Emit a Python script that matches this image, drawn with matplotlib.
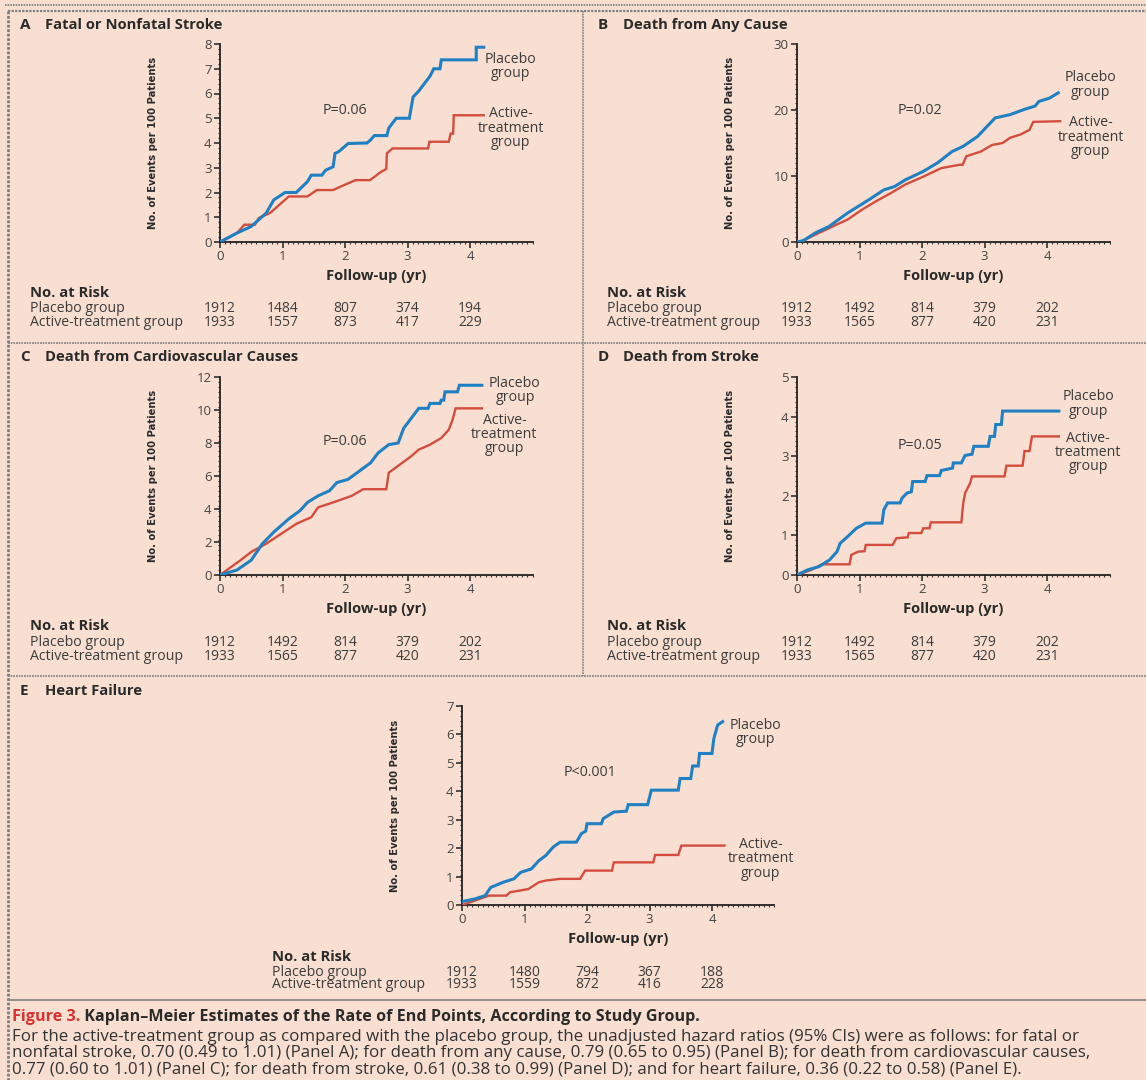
import matplotlib
matplotlib.use("Agg")
import matplotlib.pyplot as plt
from matplotlib.ticker import MultipleLocator
from matplotlib import transforms, font_manager

plt.rcParams['font.family'] = ['Open Sans', 'DejaVu Sans']

# ---- data: curve vertices (years, events per 100 patients) ----
years = [0, 1, 2, 3, 4]

a_plac_t = [0, 0.27, 0.5, 0.74, 0.86, 1.04, 1.22, 1.4, 1.46, 1.63, 1.69, 1.81, 1.84, 1.9, 2.05, 2.35,
            2.4, 2.47, 2.67, 2.7, 2.82, 3.03, 3.06, 3.09, 3.18, 3.3, 3.36, 3.42, 3.52, 3.54, 4.1, 4.1, 4.22]
a_plac_y = [0, 0.36, 0.63, 1.17, 1.7, 2.0, 2.0, 2.44, 2.7, 2.7, 2.9, 3.04, 3.58, 3.65, 3.98, 4.0,
            4.1, 4.3, 4.3, 4.6, 5.0, 5.0, 5.45, 5.86, 6.1, 6.5, 6.7, 7.0, 7.0, 7.36, 7.36, 7.87, 7.87]
a_act_t = [0, 0.27, 0.39, 0.56, 0.62, 0.8, 0.98, 1.1, 1.4, 1.55, 1.81, 1.93, 2.17, 2.4, 2.58, 2.66,
           2.67, 2.76, 3.33, 3.35, 3.66, 3.69, 3.73, 3.74, 4.22]
a_act_y = [0, 0.36, 0.7, 0.7, 0.97, 1.17, 1.57, 1.84, 1.84, 2.1, 2.1, 2.24, 2.5, 2.5, 2.84, 2.95,
           3.58, 3.78, 3.78, 4.05, 4.05, 4.38, 4.38, 5.12, 5.12]

b_plac_t = [0, 0.1, 0.29, 0.52, 0.81, 1.15, 1.39, 1.56, 1.73, 2.02, 2.25, 2.48, 2.66, 2.89, 3.17, 3.41,
            3.64, 3.81, 3.87, 4.04, 4.18]
b_plac_y = [0, 0.2, 1.36, 2.4, 4.4, 6.4, 7.9, 8.4, 9.4, 10.7, 12.0, 13.7, 14.5, 16.0, 18.8, 19.3,
            20.1, 20.6, 21.3, 21.8, 22.6]
b_act_t = [0, 0.1, 0.29, 0.58, 0.81, 1.04, 1.27, 1.5, 1.73, 2.02, 2.31, 2.6, 2.65, 2.71, 2.94, 3.12,
           3.29, 3.41, 3.58, 3.72, 3.78, 4.21]
b_act_y = [0, 0.2, 1.1, 2.4, 3.4, 4.9, 6.2, 7.4, 8.7, 9.9, 11.2, 11.7, 11.7, 13.0, 13.7, 14.7,
           15.0, 15.8, 16.3, 17.0, 18.2, 18.3]

c_plac_t = [0, 0.27, 0.5, 0.68, 0.86, 1.1, 1.28, 1.4, 1.57, 1.75, 1.87, 2.05, 2.23, 2.41, 2.53, 2.7,
            2.85, 2.94, 3.06, 3.18, 3.33, 3.36, 3.52, 3.54, 3.58, 3.6, 3.8, 3.83, 4.19]
c_plac_y = [0, 0.3, 0.9, 1.9, 2.6, 3.4, 3.9, 4.4, 4.8, 5.1, 5.6, 5.8, 6.3, 6.8, 7.4, 7.9,
            8.0, 8.9, 9.5, 10.1, 10.1, 10.4, 10.4, 10.6, 10.6, 11.1, 11.1, 11.5, 11.5]
c_act_t = [0, 0.33, 0.5, 0.74, 0.98, 1.22, 1.46, 1.57, 1.81, 2.11, 2.29, 2.66, 2.7, 2.88, 3.06, 3.18,
           3.36, 3.54, 3.66, 3.72, 3.77, 4.19]
c_act_y = [0, 0.9, 1.4, 1.9, 2.5, 3.1, 3.5, 4.1, 4.4, 4.8, 5.2, 5.2, 6.2, 6.7, 7.2, 7.6,
           7.9, 8.3, 8.8, 9.4, 10.1, 10.1]

d_plac_t = [0, 0.17, 0.35, 0.52, 0.64, 0.69, 0.81, 0.95, 1.1, 1.36, 1.39, 1.45, 1.65, 1.68, 1.76, 1.83,
            1.85, 2.05, 2.08, 2.28, 2.31, 2.49, 2.5, 2.63, 2.69, 2.8, 2.83, 3.06, 3.09, 3.16, 3.18,
            3.27, 3.29, 4.19]
d_plac_y = [0, 0.13, 0.21, 0.38, 0.59, 0.8, 0.97, 1.18, 1.31, 1.31, 1.65, 1.82, 1.82, 1.94, 2.07, 2.1,
            2.36, 2.36, 2.51, 2.51, 2.64, 2.7, 2.83, 2.83, 3.02, 3.05, 3.25, 3.25, 3.5, 3.5, 3.8,
            3.8, 4.14, 4.14]
d_act_t = [0, 0.23, 0.4, 0.84, 0.87, 0.98, 1.08, 1.1, 1.53, 1.59, 1.77, 1.79, 1.99, 2.02, 2.12, 2.14,
           2.63, 2.66, 2.69, 2.77, 2.8, 3.32, 3.35, 3.61, 3.64, 3.72, 3.76, 4.19]
d_act_y = [0, 0.13, 0.27, 0.27, 0.51, 0.59, 0.6, 0.76, 0.76, 0.93, 0.95, 1.06, 1.06, 1.18, 1.18, 1.33,
           1.33, 1.82, 2.07, 2.32, 2.49, 2.49, 2.76, 2.76, 3.13, 3.13, 3.5, 3.5]

e_plac_t = [0, 0.2, 0.37, 0.46, 0.66, 0.83, 0.94, 1.11, 1.23, 1.34, 1.46, 1.57, 1.83, 1.91, 1.98, 2.0,
            2.23, 2.26, 2.43, 2.63, 2.66, 2.97, 3.03, 3.46, 3.49, 3.66, 3.69, 3.78, 3.8, 4.0, 4.03,
            4.09, 4.17]
e_plac_y = [0.12, 0.21, 0.33, 0.62, 0.8, 0.92, 1.15, 1.27, 1.56, 1.74, 2.04, 2.21, 2.21, 2.51, 2.6, 2.86,
            2.86, 3.04, 3.27, 3.3, 3.53, 3.53, 4.04, 4.04, 4.45, 4.45, 4.89, 4.89, 5.33, 5.33, 5.86,
            6.33, 6.45]
e_act_t = [0, 0.2, 0.43, 0.71, 0.77, 1.06, 1.23, 1.34, 1.57, 1.89, 1.97, 2.4, 2.43, 3.06, 3.09, 3.46,
           3.51, 4.2]
e_act_y = [0, 0.15, 0.33, 0.33, 0.45, 0.56, 0.8, 0.86, 0.92, 0.92, 1.21, 1.21, 1.5, 1.5, 1.76, 1.76,
           2.09, 2.09]

risk_a = [[1912, 1484, 807, 374, 194], [1933, 1557, 873, 417, 229]]
risk_b = [[1912, 1492, 814, 379, 202], [1933, 1565, 877, 420, 231]]
risk_c = [[1912, 1492, 814, 379, 202], [1933, 1565, 877, 420, 231]]
risk_d = [[1912, 1492, 814, 379, 202], [1933, 1565, 877, 420, 231]]
risk_e = [[1912, 1480, 794, 367, 188], [1933, 1559, 872, 416, 228]]

W, H = 1146, 1080
BG = '#f9dfd2'
BLUE = '#1f80c3'
RED = '#d44d3c'
TXT = '#2a2a2a'
SOFT = '#3c3c3c'
GRID = '#7d7d7d'

# narrow bold face for the y labels, whichever is installed
names = {f.name for f in font_manager.fontManager.ttflist}
cond = [f for f in font_manager.fontManager.ttflist
        if f.name == 'DejaVu Sans' and 'ondensed' in str(f.stretch) + f.fname]
if 'Liberation Sans Narrow' in names:
    ylab_font = dict(family=['Liberation Sans Narrow'], fontsize=9)
elif cond:
    ylab_font = dict(family=['DejaVu Sans'], fontstretch='condensed', fontsize=8)
else:
    ylab_font = dict(family=['Lato', 'DejaVu Sans'], fontsize=7.2)

fig = plt.figure(figsize=(W / 100, H / 100), dpi=100, facecolor=BG)

# overlay axes in pixel coordinates for frames, titles and caption
over = fig.add_axes([0, 0, 1, 1], zorder=-1)
over.set_xlim(0, W)
over.set_ylim(H, 0)
over.axis('off')
over.patch.set_alpha(0)


def rect(l, r, t, b):
    return [l / W, 1 - b / H, (r - l) / W, (b - t) / H]


dots = (0, (1, 0.6))
over.plot([5, W], [5, 5], color=GRID, lw=1.2, ls=dots)
over.plot([8, W], [11, 11], color=GRID, lw=1.6, ls=dots)
over.plot([8, 8], [11, H], color=GRID, lw=2.0, ls=dots)
over.plot([583, 583], [11, 676], color=GRID, lw=1.2, ls=dots)
over.plot([8, W], [343, 343], color=GRID, lw=1.2, ls=dots)
over.plot([8, W], [676, 676], color=GRID, lw=1.2, ls=dots)
over.plot([8, W], [1000, 1000], color='#888888', lw=1.3)

panels = [
    dict(letter='A', title='Fatal or Nonfatal Stroke', box=(220, 44, 242), tx=20, ty=25,
         ymax=8, ystep=1, pt=a_plac_t, py=a_plac_y, at=a_act_t, ay=a_act_y, risk=risk_a,
         rx=30, ry=(293, 309, 322), p='P=0.06', pxy=(2.0, 5.3),
         plab=(4.65, 7.1), alab=(4.65, 4.6)),
    dict(letter='B', title='Death from Any Cause', box=(797, 44, 242), tx=598, ty=25,
         ymax=30, ystep=10, pt=b_plac_t, py=b_plac_y, at=b_act_t, ay=b_act_y, risk=risk_b,
         rx=607, ry=(293, 309, 322), p='P=0.02', pxy=(1.97, 20.0),
         plab=(4.7, 23.8), alab=(4.7, 15.9)),
    dict(letter='C', title='Death from Cardiovascular Causes', box=(220, 377, 575), tx=20, ty=357,
         ymax=12, ystep=2, pt=c_plac_t, py=c_plac_y, at=c_act_t, ay=c_act_y, risk=risk_c,
         rx=30, ry=(626, 642, 656), p='P=0.06', pxy=(2.0, 8.1),
         plab=(4.72, 11.2), alab=(4.55, 8.5)),
    dict(letter='D', title='Death from Stroke', box=(797, 377, 575), tx=598, ty=357,
         ymax=5, ystep=1, pt=d_plac_t, py=d_plac_y, at=d_act_t, ay=d_act_y, risk=risk_d,
         rx=607, ry=(626, 642, 656), p='P=0.05', pxy=(1.97, 3.26),
         plab=(4.66, 4.32), alab=(4.66, 3.1)),
    dict(letter='E', title='Heart Failure', box=(462, 706, 905), tx=20, ty=691,
         ymax=7, ystep=1, pt=e_plac_t, py=e_plac_y, at=e_act_t, ay=e_act_y, risk=risk_e,
         rx=272, ry=(957, 972, 985), p='P<0.001', pxy=(2.05, 4.65),
         plab=(4.7, 6.06), alab=(4.78, 1.62)),
]

for pn in panels:
    left, top, bottom = pn['box']
    ax = fig.add_axes(rect(left, left + 5 * 62.5, top, bottom))
    ax.patch.set_alpha(0)
    ax.plot(pn['at'], pn['ay'], color=RED, lw=1.7, zorder=3, solid_joinstyle='miter')
    ax.plot(pn['pt'], pn['py'], color=BLUE, lw=2.2, zorder=4, solid_joinstyle='miter')
    ax.set_xlim(0, 5)
    ax.set_ylim(0, pn['ymax'])
    ax.set_xticks(years)
    ax.yaxis.set_major_locator(MultipleLocator(pn['ystep']))
    ax.xaxis.set_minor_locator(MultipleLocator(1 / 12))
    ax.yaxis.set_minor_locator(MultipleLocator(pn['ymax'] / 40))
    for s in ('top', 'right'):
        ax.spines[s].set_visible(False)
    for s in ('left', 'bottom'):
        ax.spines[s].set_color('#222222')
        ax.spines[s].set_linewidth(1.3)
    ax.tick_params(which='major', length=4, width=1.1, color='#222222', labelsize=9.5,
                   labelcolor='#444444', pad=2)
    ax.tick_params(which='minor', length=1.5, width=0.8, color='#333333')
    ax.set_ylabel('No. of Events per 100 Patients', fontweight='bold', color=TXT, **ylab_font)
    ax.yaxis.set_label_coords(-62 / 312.5, 0.5)

    ax.text(pn['plab'][0], pn['plab'][1], 'Placebo\ngroup', ha='center', va='center',
            fontsize=10.2, color=SOFT, linespacing=0.93, clip_on=False)
    ax.text(pn['alab'][0], pn['alab'][1], 'Active-\ntreatment\ngroup', ha='center', va='center',
            fontsize=10.2, color=SOFT, linespacing=0.93, clip_on=False)
    ax.text(pn['pxy'][0], pn['pxy'][1], pn['p'], ha='center', va='center', fontsize=10.3,
            color=SOFT)

    # x label and numbers at risk: x from panel data, y from overlay pixels
    tr = transforms.blended_transform_factory(ax.transData, over.transData)
    ax.text(2.5, bottom + 34, 'Follow-up (yr)', transform=tr, ha='center', va='center',
            fontsize=10.6, fontweight='bold', color=TXT)
    for row, yy in zip(pn['risk'], pn['ry'][1:]):
        for t, n in zip(years, row):
            ax.text(t, yy, str(n), transform=tr, ha='center', va='center', fontsize=10,
                    color=SOFT)

    over.text(pn['rx'], pn['ry'][0], 'No. at Risk', fontsize=10.6, fontweight='bold',
              color=TXT, va='center')
    over.text(pn['rx'], pn['ry'][1], 'Placebo group', fontsize=10.2, color=SOFT, va='center')
    over.text(pn['rx'], pn['ry'][2], 'Active-treatment group', fontsize=10.2, color=SOFT,
              va='center')
    over.text(pn['tx'], pn['ty'], pn['letter'], fontsize=11, fontweight='bold', color=TXT,
              va='center')
    over.text(pn['tx'] + 25, pn['ty'], pn['title'], fontsize=10.6, fontweight='bold', color=TXT,
              va='center')

# caption
t1 = over.text(12, 1017, 'Figure 3.', fontsize=11.6, fontweight='bold', color='#d7342f',
               va='center')
over.annotate(' Kaplan\u2013Meier Estimates of the Rate of End Points, According to Study Group.',
              xy=(1, 0.5), xycoords=t1, va='center', fontsize=11.6, fontweight='bold', color=TXT)
caption = [
    'For the active-treatment group as compared with the placebo group, the unadjusted hazard ratios '
    '(95% CIs) were as follows: for fatal or',
    'nonfatal stroke, 0.70 (0.49 to 1.01) (Panel A); for death from any cause, 0.79 (0.65 to 0.95) '
    '(Panel B); for death from cardiovascular causes,',
    '0.77 (0.60 to 1.01) (Panel C); for death from stroke, 0.61 (0.38 to 0.99) (Panel D); and for '
    'heart failure, 0.36 (0.22 to 0.58) (Panel E).',
]
for i, line in enumerate(caption):
    over.text(12, 1037 + i * 16, line, fontsize=12.2, color='#333333', va='center')

fig.savefig('out.png', dpi=100, facecolor=BG)
